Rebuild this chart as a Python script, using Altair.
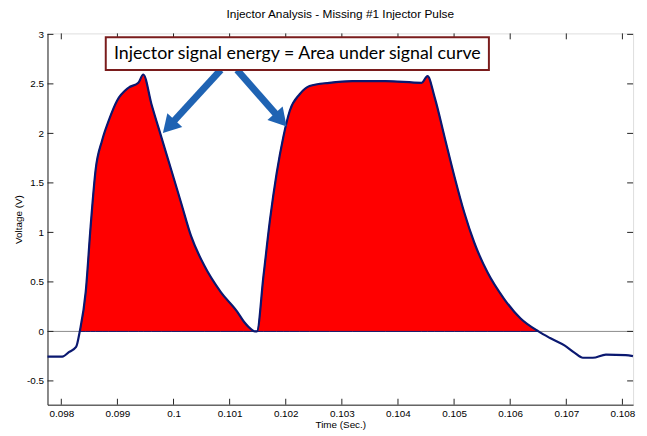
import altair as alt
import pandas as pd

# ---- data ----
time_s = [0.097754, 0.098018, 0.098141, 0.098264, 0.098329, 0.098435, 0.098523, 0.098611,
          0.098727, 0.098845, 0.098991, 0.099197, 0.099373, 0.099461, 0.099607, 0.099783,
          0.099960, 0.100136, 0.100312, 0.100548, 0.100840, 0.101134, 0.101252, 0.101398,
          0.101451, 0.101486, 0.101604, 0.101720, 0.101838, 0.101956, 0.102072, 0.102248,
          0.102424, 0.102776, 0.103188, 0.103775, 0.104421, 0.104526, 0.104655, 0.104831,
          0.105007, 0.105183, 0.105359, 0.105593, 0.105887, 0.106181, 0.106504, 0.106710,
          0.106974, 0.107150, 0.107296, 0.107472, 0.107706, 0.108058, 0.108188]
voltage = [-0.255, -0.255, -0.207, -0.157, 0.0, 0.399, 1.064, 1.630,
           1.929, 2.129, 2.328, 2.461, 2.511, 2.595, 2.295, 1.962,
           1.630, 1.297, 0.964, 0.665, 0.399, 0.200, 0.100, 0.016,
           0.0, 0.0, 0.565, 1.131, 1.597, 1.962, 2.229, 2.395,
           2.478, 2.511, 2.528, 2.528, 2.511, 2.578, 2.361, 1.962,
           1.563, 1.198, 0.898, 0.599, 0.332, 0.133, 0.0, -0.067,
           -0.144, -0.217, -0.266, -0.266, -0.234, -0.240, -0.250]
x_ticks = [0.098, 0.099, 0.100, 0.101, 0.102, 0.103, 0.104, 0.105, 0.106, 0.107, 0.108]
y_ticks = [-0.5, 0, 0.5, 1, 1.5, 2, 2.5, 3]
title_text = "Injector Analysis - Missing #1 Injector Pulse"
note_text = "Injector signal energy = Area under signal curve"

W, H = 593, 376
x_dom = [0.097754, 0.108190]
y_dom = [-0.74, 3.01]
FONT = "Liberation Sans"
AX = "#222222"
NAVY = "#0a1870"

df = pd.DataFrame({"t": time_s, "v": voltage})
xt = pd.DataFrame({"t": x_ticks})
yt = pd.DataFrame({"v": y_ticks})
one = pd.DataFrame({"a": [0]})

xs = alt.Scale(domain=x_dom, nice=False, zero=False)
ys = alt.Scale(domain=y_dom, nice=False, zero=False)

lbl = "replace(format(datum.value, '~g'), '\u2212', '-')"
x_enc = alt.X("t:Q", scale=xs, title="Time (Sec.)",
              axis=alt.Axis(values=x_ticks, labelExpr=lbl, ticks=False, tickSize=0,
                            grid=False, domainColor=AX, labelPadding=4, titlePadding=1,
                            labelFontSize=10, titleFontSize=10, labelFont=FONT, titleFont=FONT,
                            labelColor="#000", titleColor="#000", titleFontWeight="normal"))
y_enc = alt.Y("v:Q", scale=ys, title="Voltage (V)",
              axis=alt.Axis(values=y_ticks, labelExpr=lbl, ticks=False, tickSize=0,
                            grid=False, domainColor=AX, labelPadding=4, titlePadding=3,
                            labelFontSize=10, titleFontSize=10, labelFont=FONT, titleFont=FONT,
                            labelColor="#000", titleColor="#000", titleFontWeight="normal"))

zero = alt.Chart(one).mark_rule(color="#8a8a8a", strokeWidth=1).encode(
    y=alt.datum(0, scale=ys), x=alt.value(0), x2=alt.value(W))

area = alt.Chart(df).transform_filter("datum.v >= 0").mark_area(
    color="#ff0000", stroke=NAVY, strokeWidth=1, opacity=1, interpolate="monotone"
).encode(x=x_enc, y=y_enc, y2=alt.datum(0))

line = alt.Chart(df).mark_line(color=NAVY, strokeWidth=2.2, interpolate="monotone").encode(
    x=alt.X("t:Q", scale=xs), y=alt.Y("v:Q", scale=ys))

tb = alt.Chart(xt).mark_rule(color=AX).encode(
    x=alt.X("t:Q", scale=xs), y=alt.value(H), y2=alt.value(H - 6))
tt = alt.Chart(xt).mark_rule(color=AX).encode(
    x=alt.X("t:Q", scale=xs), y=alt.value(0), y2=alt.value(6))
tl = alt.Chart(yt).mark_rule(color=AX).encode(
    y=alt.Y("v:Q", scale=ys), x=alt.value(0), x2=alt.value(6))
tr = alt.Chart(yt).mark_rule(color=AX).encode(
    y=alt.Y("v:Q", scale=ys), x=alt.value(W), x2=alt.value(W - 6))

ARROW = "#1f63b3"
shaft1 = alt.Chart(one).mark_rule(color=ARROW, strokeWidth=7).encode(
    x=alt.value(175.5), y=alt.value(37), x2=alt.value(122.9), y2=alt.value(94.3))
head1 = alt.Chart(one).mark_point(shape="triangle-up", filled=True, size=420, opacity=1,
                                   color=ARROW, angle=222.6).encode(
    x=alt.value(122.9), y=alt.value(94.3))
shaft2 = alt.Chart(one).mark_rule(color=ARROW, strokeWidth=7).encode(
    x=alt.value(192), y=alt.value(37), x2=alt.value(236.3), y2=alt.value(87.5))
head2 = alt.Chart(one).mark_point(shape="triangle-up", filled=True, size=420, opacity=1,
                                   color=ARROW, angle=138.7).encode(
    x=alt.value(236.3), y=alt.value(87.5))

box = alt.Chart(one).mark_rect(fill="white", stroke="#7a1c1c", strokeWidth=2).encode(
    x=alt.value(59), x2=alt.value(447), y=alt.value(4), y2=alt.value(37))
note = alt.Chart(one).mark_text(text=note_text, font="Lato", fontSize=18, color="#000",
                                align="center", baseline="middle").encode(
    x=alt.value(253), y=alt.value(21))

chart = alt.layer(zero, area, line, tb, tt, tl, tr, shaft1, shaft2, head1, head2, box, note).properties(
    width=W, height=H,
    title=alt.TitleParams(title_text, font=FONT, fontSize=12, fontWeight="normal",
                          color="#000", offset=9, anchor="middle"),
    autosize=alt.AutoSizeParams(type="none"),
    padding={"left": 40, "top": 23, "right": 6, "bottom": 29},
).configure_view(stroke=AX, strokeWidth=1).configure(background="white")

chart.save("out.html", embed_options={"renderer": "svg", "actions": False})
